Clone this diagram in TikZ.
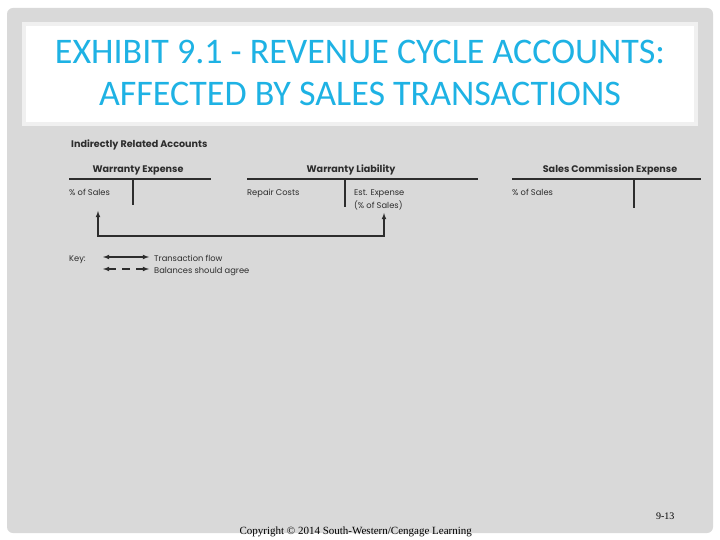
\documentclass[tikz,border=0pt]{standalone}
\usepackage{fontspec}
\setmainfont{Liberation Serif}
\newfontfamily\titlefont{Carlito}
\newfontfamily\acctfont{Poppins}
\usetikzlibrary{positioning}
\tikzset{>=latex}
\definecolor{TitleBlue}{RGB}{30,178,228}
\definecolor{SlideGray}{RGB}{217,217,217}
\definecolor{InkGray}{RGB}{45,45,45}
\tikzset{
  acct/.style={font=\acctfont\fontsize{8.3}{12}\selectfont, text=InkGray, inner sep=0pt},
  accthead/.style={font=\acctfont\bfseries\fontsize{9.6}{11}\selectfont, text=InkGray, inner sep=0pt},
  tline/.style={InkGray, line width=1.3pt},
  flow/.style={<->, InkGray, line width=1.1pt},
}

\begin{document}
\begin{tikzpicture}[x=1pt,y=-1pt]
        \useasboundingbox (0,0) rectangle (720,540);
        \fill[white] (0,0) rectangle (720,540);
        \fill[SlideGray, rounded corners=6pt] (7,8) rectangle (713,533);
        \draw[white!94!black, line width=4pt, fill=white] (24,24) rectangle (696,124);
        \node (title1) [font=\titlefont\fontsize{36}{42}\selectfont, text=TitleBlue, anchor=base] at (360,64) {EXHIBIT 9.1 - REVENUE CYCLE ACCOUNTS:};
        \node (title2) [font=\titlefont\fontsize{36}{42}\selectfont, text=TitleBlue, anchor=base] at (360,106) {AFFECTED BY SALES TRANSACTIONS};
        % indirectly related accounts
        \node (indirect) [accthead, anchor=base west] at (71,148) {Indirectly Related Accounts};
        \node (wexp) [accthead, anchor=base] at (138,173) {Warranty Expense};
        \draw[tline] (69,179) -- (211,179);
        \draw[tline] (133,179) -- (133,205);
        \node (wexpdr) [acct, anchor=base west] at (69,196) {\% of Sales};
        \node (wliab) [accthead, anchor=base] at (351,173) {Warranty Liability};
        \draw[tline] (247,179) -- (478,179);
        \draw[tline] (345,179) -- (345,207);
        \node (wliabdr) [acct, anchor=base west] at (247,196) {Repair Costs};
        \node (wliabcr) [acct, anchor=base west] at (354,196) {Est. Expense};
        \node (wliabcr2) [acct, anchor=base west] at (354,208) {(\% of Sales)};
        \node (scomm) [accthead, anchor=base] at (610,173) {Sales Commission Expense};
        \draw[tline] (512,179) -- (701,179);
        \draw[tline] (634,179) -- (634,208);
        \node (scommdr) [acct, anchor=base west] at (512,196) {\% of Sales};
        \coordinate (wexpin) at (98,211);
        \coordinate (wliabin) at (384,213);
        \draw[flow] (wexpin) -- (98,236) -| (wliabin);
        % key
        \node (key) [acct, anchor=base west] at (69,261) {Key:};
        \coordinate (solidL) at (103,257);
        \coordinate (solidR) at (149,257);
        \coordinate (dashL) at (103,269);
        \coordinate (dashR) at (149,269);
        \draw[flow] (solidL) -- (solidR);
        \draw[flow, dash pattern=on 8pt off 6pt] (dashL) -- (dashR);
        \node (keyflow) [acct, anchor=base west] at (154,261) {Transaction flow};
        \node (keyagree) [acct, anchor=base west] at (154,273) {Balances should agree};
        % footer
        \node (page) [font=\fontsize{10}{12}\selectfont, anchor=base east] at (678,519) {9-13};
        \node (copy) [font=\fontsize{11}{13}\selectfont, anchor=base west] at (236,534) {Copyright \textcopyright{} 2014 South-Western/Cengage Learning};
\end{tikzpicture}
\end{document}
